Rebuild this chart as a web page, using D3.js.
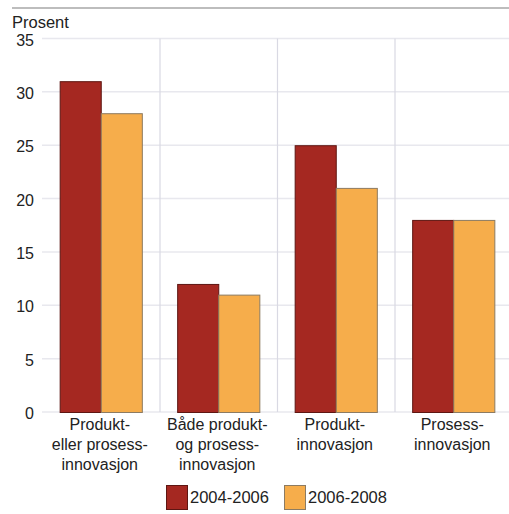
<!DOCTYPE html>
<html>
<head>
<meta charset="utf-8">
<script src="https://cdn.jsdelivr.net/npm/d3@7"></script>
<style>
  body { margin: 0; background: #fff; }
  text { font-family: "Liberation Sans", Arial, sans-serif; fill: #222; }
</style>
</head>
<body>
<script>
var width = 509,
    height = 514;

var categories = [
  ["Produkt-", "eller prosess-", "innovasjon"],
  ["Både produkt-", "og prosess-", "innovasjon"],
  ["Produkt-", "innovasjon"],
  ["Prosess-", "innovasjon"]
];
var series = ["2004-2006", "2006-2008"];
var values2004 = [31, 12, 25, 18];
var values2006 = [28, 11, 21, 18];
var yTicks = [0, 5, 10, 15, 20, 25, 30, 35];

var colors = ["#a52821", "#f6ad4b"],
    strokes = ["#5e1612", "#8c7b62"];

var margin = {left: 42, right: -3, top: 38.5, bottom: 102};

var svg = d3.select("body").append("svg")
    .attr("width", width)
    .attr("height", height);

// top rule
svg.append("line")
  .attr("x1", 12).attr("x2", width)
  .attr("y1", 8).attr("y2", 8)
  .attr("stroke", "#bdbdbd")
  .attr("stroke-width", 2);

svg.append("text")
  .attr("x", 12)
  .attr("y", 28)
  .attr("font-size", 16.5)
  .text("Prosent");

var x = d3.scaleBand()
  .domain(d3.range(categories.length))
  .range([margin.left, width - margin.right])
  .paddingInner(0)
  .paddingOuter(0);

var xInner = d3.scaleBand()
  .domain(series)
  .range([0, x.bandwidth()])
  .paddingOuter(0.43)
  .paddingInner(0);

var y = d3.scaleLinear()
  .domain([0, 35])
  .range([height - margin.bottom, margin.top]);

var g = svg.append("g");

// horizontal grid
g.selectAll("line.h")
  .data(yTicks)
  .enter().append("line")
    .attr("class", "h")
    .attr("x1", margin.left)
    .attr("x2", width)
    .attr("y1", function(d) { return y(d); })
    .attr("y2", function(d) { return y(d); })
    .attr("stroke", "#e8e8ee")
    .attr("stroke-width", 1.5);

// vertical separators
g.selectAll("line.v")
  .data(d3.range(1, categories.length))
  .enter().append("line")
    .attr("class", "v")
    .attr("x1", function(d) { return x(d) + 0.5; })
    .attr("x2", function(d) { return x(d) + 0.5; })
    .attr("y1", y(35))
    .attr("y2", y(0))
    .attr("stroke", "#d9d9e3")
    .attr("stroke-width", 1.2);

// y tick labels
g.selectAll("text.yt")
  .data(yTicks)
  .enter().append("text")
    .attr("class", "yt")
    .attr("x", 34)
    .attr("y", function(d) { return y(d) + 7; })
    .attr("text-anchor", "end")
    .attr("font-size", 16)
    .text(function(d) { return d; });

// bars
var allValues = [values2004, values2006];
series.forEach(function(s, si) {
  g.selectAll("rect.s" + si)
    .data(allValues[si])
    .enter().append("rect")
      .attr("class", "s" + si)
      .attr("x", function(d, i) { return x(i) + xInner(s) + 0.5; })
      .attr("y", function(d) { return y(d) + 0.5; })
      .attr("width", xInner.bandwidth())
      .attr("height", function(d) { return y(0) - y(d); })
      .attr("fill", colors[si])
      .attr("stroke", strokes[si])
      .attr("stroke-width", 1);
});

// category labels
categories.forEach(function(lines, i) {
  var cx = x(i) + x.bandwidth() / 2 - 1;
  var t = g.append("text")
    .attr("x", cx)
    .attr("y", 430)
    .attr("text-anchor", "middle")
    .attr("font-size", 16);
  lines.forEach(function(l, li) {
    t.append("tspan")
      .attr("x", cx)
      .attr("dy", li == 0 ? 0 : 20)
      .text(l);
  });
});

// legend
var legendX = [166, 284];
series.forEach(function(s, si) {
  svg.append("rect")
    .attr("x", legendX[si] + 0.5)
    .attr("y", 485.5)
    .attr("width", 21)
    .attr("height", 24)
    .attr("fill", colors[si])
    .attr("stroke", strokes[si]);
  svg.append("text")
    .attr("x", legendX[si] + 24)
    .attr("y", 503)
    .attr("font-size", 16.5)
    .text(s);
});
</script>
</body>
</html>
